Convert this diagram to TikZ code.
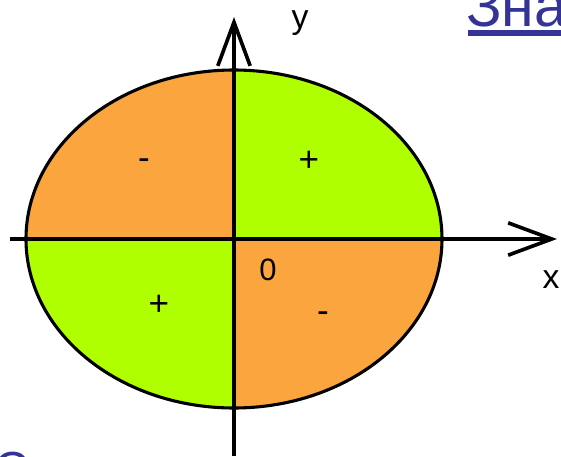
\documentclass[tikz,border=0pt]{standalone}
\usepackage{fontspec}
\setmainfont{Liberation Sans}
\usetikzlibrary{arrows.meta}
\definecolor{cOrange}{RGB}{250,165,62}
\definecolor{cLime}{RGB}{176,255,0}
\definecolor{cLink}{RGB}{52,52,150}
\begin{document}
\begin{tikzpicture}[x=0.025cm, y=0.025cm,
    axis/.style={line width=2.2pt, -{Straight Barb[length=31pt,width=23pt,line width=2.6pt]}},
    sign/.style={font=\fontsize{25}{25}\selectfont}]
  \useasboundingbox (-234,-217) rectangle (327,239);
  \clip (-234,-217) rectangle (327,239);
  % Quadrants
  \fill[cLime] (0,0) -- (208,0) arc[start angle=0, end angle=90, x radius=208, y radius=169] -- cycle;
  \fill[cOrange] (0,0) -- (0,169) arc[start angle=90, end angle=180, x radius=208, y radius=169] -- cycle;
  \fill[cLime] (0,0) -- (-208,0) arc[start angle=180, end angle=270, x radius=208, y radius=169] -- cycle;
  \fill[cOrange] (0,0) -- (0,-169) arc[start angle=270, end angle=360, x radius=208, y radius=169] -- cycle;
  % Ellipse
  \draw[line width=2.2pt] (0,0) ellipse[x radius=208, y radius=169];
  % Axes
  \coordinate (xstart) at (-224,0);
  \coordinate (xend) at (323,0);
  \coordinate (ystart) at (0,-217);
  \coordinate (yend) at (0,222);
  \draw[axis] (xstart) -- (xend);
  \draw[axis] (ystart) -- (yend);
  \node[font=\fontsize{24}{24}\selectfont] (ylabel) at (66,216) {y};
  \node[font=\fontsize{24}{24}\selectfont] (xlabel) at (317,-41) {x};
  \node[font=\fontsize{22}{22}\selectfont] (origin) at (34,-31) {0};
  % Signs
  \node[sign] (signA) at (75,78) {+};
  \node[sign] (signB) at (-90,75) {-};
  \node[sign] (signC) at (-75,-66) {+};
  \node[sign] (signD) at (89,-78) {-};
  % Cut-off text
  \node[anchor=base west, inner sep=0pt, text=cLink, font=\fontsize{42}{42}\selectfont] (link) at (232,213) {Зна};
  \draw[cLink, line width=3.6pt] (234,206) -- (330,206);
  \node[anchor=base west, inner sep=0pt, text=cLink, font=\fontsize{34}{34}\selectfont] (cut) at (-240,-246) {С};
\end{tikzpicture}
\end{document}
